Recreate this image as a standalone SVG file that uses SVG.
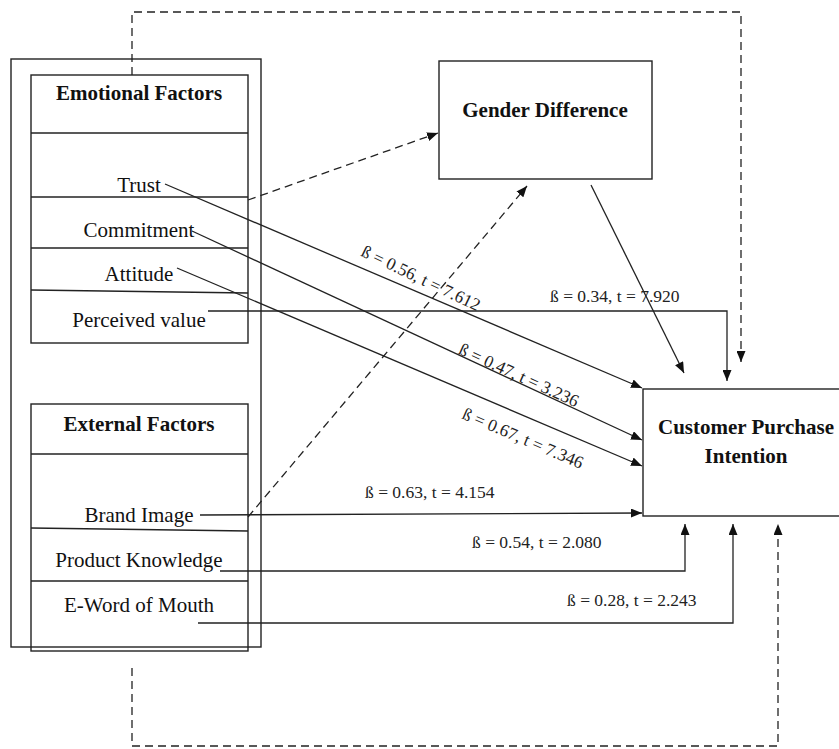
<svg xmlns="http://www.w3.org/2000/svg" width="839" height="749" viewBox="0 0 839 749">
<defs>
<style>
.box{fill:none;stroke:#222;stroke-width:1.4}
.row{stroke:#222;stroke-width:1.3;fill:none}
.t{font-family:"Liberation Serif","Times New Roman",serif;font-size:21px;fill:#111;text-anchor:middle}
.b{font-weight:bold}
.lbl{font-family:"Liberation Serif","Times New Roman",serif;font-size:17.5px;fill:#222}
.c{fill:none;stroke:#222;stroke-width:1.3}
.d{fill:none;stroke:#222;stroke-width:1.3;stroke-dasharray:8,5}
</style>
<marker id="ah" markerUnits="userSpaceOnUse" markerWidth="11" markerHeight="9" refX="11" refY="4.5" orient="auto">
<path d="M0,0 L11,4.5 L0,9 z" fill="#111"/>
</marker>
</defs>
<rect width="839" height="749" fill="#fff"/>

<g id="outer-frame">
<rect class="box" x="11" y="59" width="250" height="588"/>
</g>

<g id="emotional-factors">
<rect class="box" x="31" y="75" width="217" height="268"/>
<text class="t b" x="139" y="100">Emotional Factors</text>
<line class="row" x1="31" y1="133" x2="248" y2="133"/>
<g id="trust"><text class="t" x="139" y="192">Trust</text></g>
<line class="row" x1="31" y1="197" x2="248" y2="197"/>
<g id="commitment"><text class="t" x="139" y="237">Commitment</text></g>
<line class="row" x1="31" y1="248" x2="248" y2="248"/>
<g id="attitude"><text class="t" x="139" y="281">Attitude</text></g>
<line class="row" x1="31" y1="290" x2="248" y2="293"/>
<g id="perceived-value"><text class="t" x="139" y="327">Perceived value</text></g>
</g>

<g id="external-factors">
<rect class="box" x="31" y="404" width="217" height="247"/>
<text class="t b" x="139" y="431">External Factors</text>
<line class="row" x1="31" y1="454" x2="248" y2="454"/>
<g id="brand-image"><text class="t" x="139" y="522">Brand Image</text></g>
<line class="row" x1="31" y1="528" x2="248" y2="531"/>
<g id="product-knowledge"><text class="t" x="139" y="567">Product Knowledge</text></g>
<line class="row" x1="31" y1="581" x2="248" y2="581"/>
<g id="e-word-of-mouth"><text class="t" x="139" y="612">E-Word of Mouth</text></g>
</g>

<g id="gender-difference">
<rect class="box" x="439" y="61" width="213" height="118"/>
<text class="t b" x="545" y="117">Gender Difference</text>
</g>

<g id="customer-purchase-intention">
<rect class="box" x="643" y="389" width="210" height="127"/>
<text class="t b" x="746" y="434">Customer Purchase</text>
<text class="t b" x="746" y="463">Intention</text>
</g>

<g id="connectors">
<line class="c" x1="165" y1="184" x2="642" y2="388" marker-end="url(#ah)"/>
<line class="c" x1="192" y1="231" x2="642" y2="440" marker-end="url(#ah)"/>
<line class="c" x1="177" y1="268" x2="642" y2="466" marker-end="url(#ah)"/>
<path class="c" d="M208,311 H727 V381" marker-end="url(#ah)"/>
<line class="c" x1="591" y1="185" x2="684" y2="373" marker-end="url(#ah)"/>
<line class="c" x1="200" y1="515" x2="642" y2="513" marker-end="url(#ah)"/>
<path class="c" d="M220,571 H685 V524" marker-end="url(#ah)"/>
<path class="c" d="M198,623 H733 V524" marker-end="url(#ah)"/>
<path class="d" d="M132,75 V12 H741 V362" marker-end="url(#ah)"/>
<line class="d" x1="248" y1="200" x2="438" y2="133" marker-end="url(#ah)"/>
<line class="d" x1="248" y1="517" x2="527" y2="186" marker-end="url(#ah)"/>
<path class="d" d="M132,668 V746 H778 V524" marker-end="url(#ah)"/>
</g>

<g id="labels">
<text class="lbl" transform="translate(421,278) rotate(25.5)" x="0" y="6" text-anchor="middle">ß = 0.56, t = 7.612</text>
<text class="lbl" transform="translate(519,375) rotate(24.5)" x="0" y="6" text-anchor="middle">ß = 0.47, t = 3.236</text>
<text class="lbl" transform="translate(523,438) rotate(23)" x="0" y="6" text-anchor="middle">ß = 0.67, t = 7.346</text>
<text class="lbl" x="550" y="302">ß = 0.34, t = 7.920</text>
<text class="lbl" x="365" y="498">ß = 0.63, t = 4.154</text>
<text class="lbl" x="472" y="548">ß = 0.54, t = 2.080</text>
<text class="lbl" x="567" y="606">ß = 0.28, t = 2.243</text>
</g>
</svg>
